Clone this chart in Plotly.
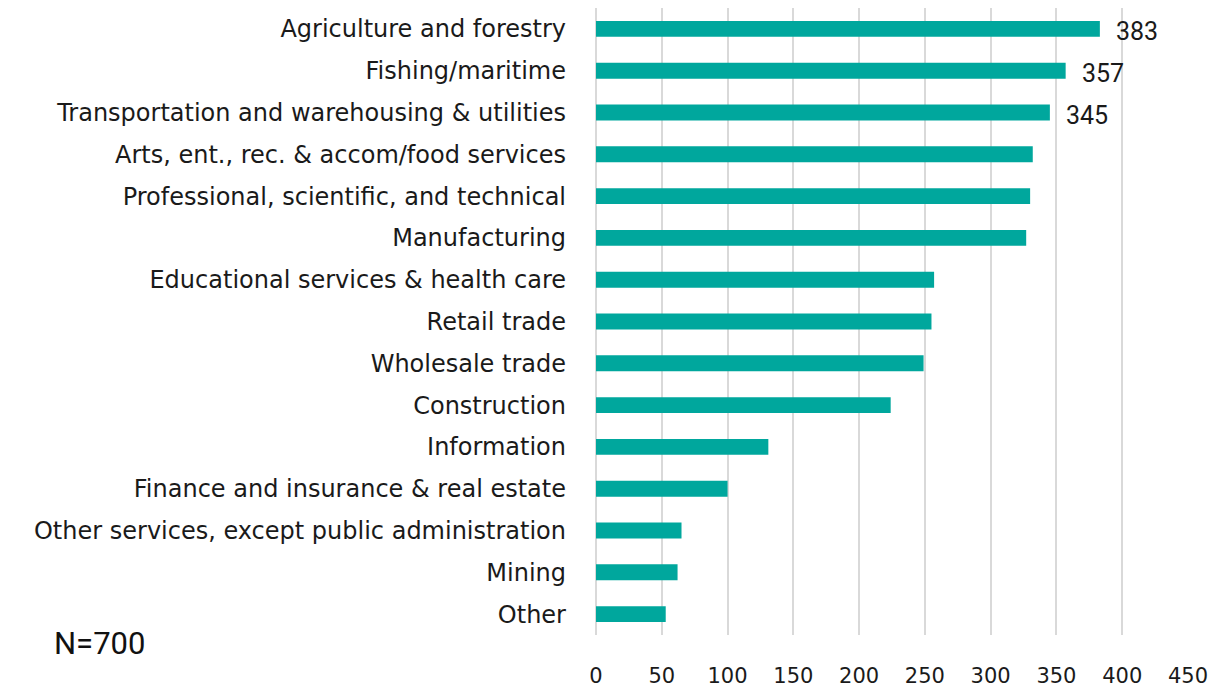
import plotly.graph_objects as go

# Industry categories, listed top to bottom
categories = [
    "Agriculture and forestry",
    "Fishing/maritime",
    "Transportation and warehousing & utilities",
    "Arts, ent., rec. & accom/food services",
    "Professional, scientific, and technical",
    "Manufacturing",
    "Educational services & health care",
    "Retail trade",
    "Wholesale trade",
    "Construction",
    "Information",
    "Finance and insurance & real estate",
    "Other services, except public administration",
    "Mining",
    "Other",
]
counts = [383, 357, 345, 332, 330, 327, 257, 255, 249, 224, 131, 100, 65, 62, 53]
labelled = 3  # value labels shown on the leading bars only
x_ticks = [0, 50, 100, 150, 200, 250, 300, 350, 400, 450]
sample_note = "N=700"

W, H = 1220, 687
M_L, M_R, M_T, M_B = 596, 32, 8, 52
BAR = "#00A79D"
LABEL_FONT = "DejaVu Sans, sans-serif"
NUM_FONT = "Roboto, Arial, sans-serif"

fig = go.Figure(
    go.Bar(
        x=counts,
        y=categories,
        orientation="h",
        marker=dict(color=BAR, line=dict(width=0)),
        hoverinfo="x+y",
    )
)

for cat, val in zip(categories[:labelled], counts[:labelled]):
    fig.add_annotation(
        x=val, y=cat, xref="x", yref="y",
        text=str(val), showarrow=False,
        xanchor="left", yanchor="middle", xshift=14, yshift=-3,
        font=dict(family=NUM_FONT, size=25, color="#1a1a1a"),
    )

# sample size note, placed in pixel terms below the plot
fig.add_annotation(
    x=(52 - M_L) / (W - M_L - M_R),
    y=(H - M_B - 643) / (H - M_T - M_B),
    xref="paper", yref="paper", text=sample_note, showarrow=False,
    font=dict(family=NUM_FONT, size=31, color="#111111"),
    xanchor="left", yanchor="middle",
)

fig.update_layout(
    width=W, height=H,
    margin=dict(l=M_L, r=M_R, t=M_T, b=M_B),
    paper_bgcolor="white", plot_bgcolor="white",
    bargap=0.62,
    showlegend=False,
    xaxis=dict(
        range=[0, 450], tickvals=x_ticks, ticktext=[str(v) for v in x_ticks],
        showgrid=True, gridcolor="#D9D9D9", gridwidth=1.5,
        zeroline=True, zerolinecolor="#D9D9D9", zerolinewidth=1.5,
        showline=False, ticks="",
        tickfont=dict(family=LABEL_FONT, size=21, color="#1a1a1a"),
        ticklabelstandoff=26,
        automargin=False,
    ),
    yaxis=dict(
        categoryorder="array", categoryarray=categories[::-1],
        showgrid=False, zeroline=False, showline=False, ticks="",
        tickfont=dict(family=LABEL_FONT, size=24, color="#1a1a1a"),
        ticklabelstandoff=29,
        automargin=False,
    ),
)

fig.write_html("out.html")
